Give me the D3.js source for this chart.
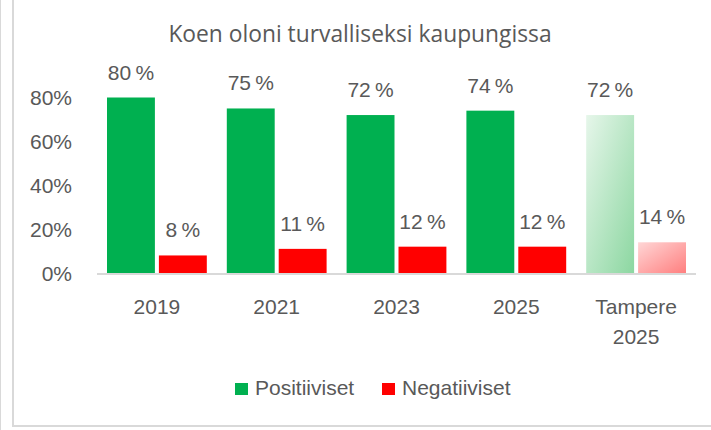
<!DOCTYPE html>
<html>
<head>
<meta charset="utf-8">
<script src="https://cdn.jsdelivr.net/npm/d3@7"></script>
<style>
    body { margin: 0; background: #fff; }
    svg { display: block; }
    text { fill: #595959; }
</style>
</head>
<body>
<svg></svg>
<script>
var width = 711;
var height = 430;

var title = "Koen oloni turvalliseksi kaupungissa";
var categories = ["2019", "2021", "2023", "2025", "Tampere 2025"];
var seriesNames = ["Positiiviset", "Negatiiviset"];
var positive = [0.80, 0.75, 0.72, 0.74, 0.72];
var negative = [0.08, 0.11, 0.12, 0.12, 0.14];
var yTicks = [0, 0.2, 0.4, 0.6, 0.8];

var colors = ["#00b050", "#ff0000"];

var plot = { left: 97, right: 696, top: 97.5, bottom: 273 };
var font = "'Liberation Sans', Arial, sans-serif";

var svg = d3.select("svg")
    .attr("width", width)
    .attr("height", height);

// gradients for the Tampere bars
var defs = svg.append("defs");
var grads = [
    { id: "gradPos", from: "#e6f6ea", to: "#8cd7a1" },
    { id: "gradNeg", from: "#ffd6d6", to: "#ff7f7f" }
];
grads.forEach(function(g) {
    var lg = defs.append("linearGradient")
        .attr("id", g.id)
        .attr("x1", "0").attr("y1", "0")
        .attr("x2", "1").attr("y2", "1");
    lg.append("stop").attr("offset", "0%").attr("stop-color", g.from);
    lg.append("stop").attr("offset", "100%").attr("stop-color", g.to);
});

// outer frame
svg.append("line")
    .attr("x1", 0.5).attr("x2", 0.5)
    .attr("y1", 0).attr("y2", height)
    .attr("stroke", "#d9d9d9");
svg.append("rect")
    .attr("x", 13).attr("y", -1)
    .attr("width", width + 5).attr("height", 427)
    .attr("fill", "none")
    .attr("stroke", "#d9d9d9")
    .attr("stroke-width", 2);

svg.append("text")
    .attr("x", 360)
    .attr("y", 42)
    .attr("text-anchor", "middle")
    .style("font-family", "'Open Sans', sans-serif")
    .style("font-size", "22.8px")
    .text(title);

var x = d3.scaleBand()
    .domain(categories)
    .range([plot.left, plot.right])
    .paddingInner(0)
    .paddingOuter(0);

var groupPad = 10;
var barGap = 4;
var barW = (x.bandwidth() - 2 * groupPad - barGap) / 2;

var y = d3.scaleLinear()
    .domain([0, 0.8])
    .range([plot.bottom, plot.top]);

var y_axis = d3.axisLeft(y)
    .tickValues(yTicks)
    .tickSize(0)
    .tickPadding(0)
    .tickFormat(d3.format(".0%"));

var gy = svg.append("g")
    .attr("class", "y axis")
    .attr("transform", "translate(72,0)")
    .call(y_axis);
gy.select(".domain").remove();
gy.selectAll("text")
    .attr("fill", "#595959")
    .style("font-family", font)
    .style("font-size", "21px")
    .attr("dy", "0.35em");

var rows = categories.map(function(c, i) {
    return { cat: c, values: [positive[i], negative[i]], special: i === categories.length - 1 };
});

var bars = svg.append("g");
rows.forEach(function(r) {
    r.values.forEach(function(v, s) {
        var bx = x(r.cat) + groupPad + s * (barW + barGap);
        bars.append("rect")
            .attr("x", bx)
            .attr("y", y(v))
            .attr("width", barW)
            .attr("height", y(0) - y(v))
            .attr("fill", r.special ? "url(#" + grads[s].id + ")" : colors[s]);
        bars.append("text")
            .attr("x", bx + barW / 2)
            .attr("y", y(v) - 18)
            .attr("text-anchor", "middle")
            .style("font-family", font)
            .style("font-size", "21px")
            .text(Math.round(v * 100) + "\u2009%");
    });
});

// x axis line
svg.append("line")
    .attr("x1", plot.left).attr("x2", plot.right)
    .attr("y1", plot.bottom + 1).attr("y2", plot.bottom + 1)
    .attr("stroke", "#d9d9d9")
    .attr("stroke-width", 2);

// category labels
rows.forEach(function(r) {
    var words = r.cat.split(" ");
    var t = svg.append("text")
        .attr("x", x(r.cat) + x.bandwidth() / 2)
        .attr("y", 314)
        .attr("text-anchor", "middle")
        .style("font-family", font)
        .style("font-size", "21px");
    words.forEach(function(w, i) {
        t.append("tspan")
            .attr("x", x(r.cat) + x.bandwidth() / 2)
            .attr("dy", i === 0 ? 0 : 30)
            .text(w);
    });
});

// legend
var legendX = [235, 382];
seriesNames.forEach(function(name, i) {
    svg.append("rect")
        .attr("x", legendX[i])
        .attr("y", 383)
        .attr("width", 13)
        .attr("height", 12)
        .attr("fill", colors[i]);
    svg.append("text")
        .attr("x", legendX[i] + 20)
        .attr("y", 395)
        .style("font-family", font)
        .style("font-size", "21px")
        .text(name);
});
</script>
</body>
</html>
